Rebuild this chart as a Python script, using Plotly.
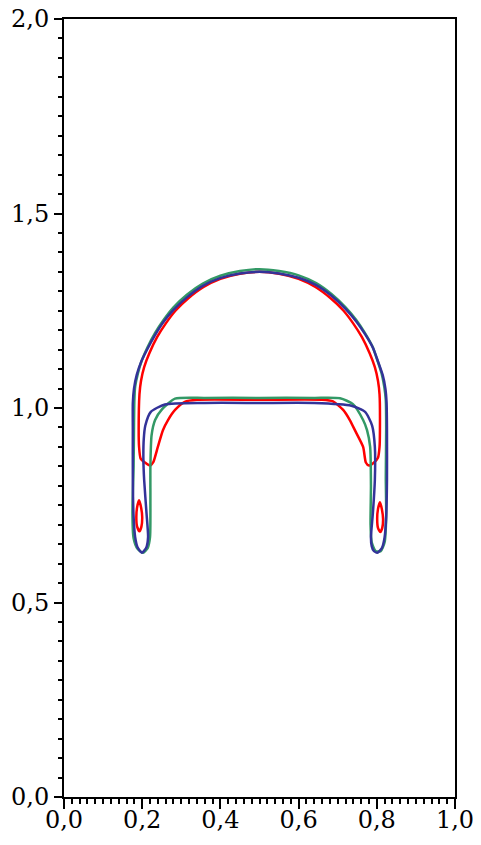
import plotly.graph_objects as go

# ─── contour data ────────────────────────────────────────────────────────────

blue_x = [0.500, 0.450, 0.399, 0.355, 0.315, 0.280, 0.253, 0.232, 0.212, 0.197, 0.186, 0.179,
          0.176, 0.176, 0.176, 0.178, 0.182, 0.188, 0.199, 0.210, 0.215, 0.211, 0.205, 0.203,
          0.204, 0.208, 0.222, 0.258, 0.360, 0.500, 0.640, 0.735, 0.770, 0.788, 0.795, 0.795,
          0.790, 0.785, 0.787, 0.792, 0.801, 0.813, 0.820, 0.824, 0.826, 0.826, 0.825, 0.822,
          0.815, 0.803, 0.790, 0.770, 0.748, 0.720, 0.685, 0.645, 0.600, 0.550, 0.500]
blue_y = [1.350, 1.346, 1.334, 1.314, 1.285, 1.252, 1.219, 1.186, 1.149, 1.118, 1.085, 1.050,
          1.013, 0.943, 0.815, 0.720, 0.668, 0.642, 0.628, 0.640, 0.668, 0.730, 0.815, 0.870,
          0.920, 0.955, 0.990, 1.009, 1.013, 1.013, 1.013, 1.006, 0.990, 0.955, 0.900, 0.815,
          0.730, 0.668, 0.645, 0.633, 0.628, 0.640, 0.668, 0.720, 0.815, 0.943, 1.013, 1.050,
          1.085, 1.120, 1.155, 1.190, 1.222, 1.255, 1.288, 1.316, 1.335, 1.346, 1.350]

green_x = [0.500, 0.450, 0.400, 0.355, 0.315, 0.280, 0.255, 0.233, 0.213, 0.199, 0.189, 0.182,
           0.180, 0.179, 0.178, 0.175, 0.178, 0.188, 0.202, 0.214, 0.220, 0.221, 0.221, 0.224,
           0.233, 0.251, 0.284, 0.360, 0.500, 0.640, 0.706, 0.739, 0.765, 0.775, 0.783, 0.785,
           0.784, 0.787, 0.797, 0.810, 0.820, 0.824, 0.823, 0.824, 0.823, 0.819, 0.812, 0.801,
           0.789, 0.769, 0.747, 0.719, 0.684, 0.645, 0.600, 0.550, 0.500]
green_y = [1.357, 1.352, 1.340, 1.320, 1.292, 1.259, 1.227, 1.193, 1.155, 1.122, 1.089, 1.055,
           1.020, 0.950, 0.850, 0.730, 0.665, 0.638, 0.628, 0.640, 0.668, 0.760, 0.850, 0.930,
           0.969, 0.997, 1.024, 1.026, 1.026, 1.026, 1.025, 1.010, 0.969, 0.943, 0.900, 0.800,
           0.700, 0.655, 0.632, 0.632, 0.655, 0.720, 0.820, 0.950, 1.020, 1.055, 1.090, 1.124,
           1.158, 1.194, 1.227, 1.260, 1.293, 1.321, 1.341, 1.352, 1.357]

red_x = [0.500, 0.450, 0.400, 0.357, 0.318, 0.285, 0.260, 0.238, 0.218, 0.205, 0.197, 0.193,
         0.191, 0.192, 0.196, 0.207, 0.220, 0.228, 0.240, 0.253, 0.266, 0.284, 0.309, 0.340,
         0.500, 0.660, 0.688, 0.714, 0.731, 0.744, 0.765, 0.772, 0.780, 0.793, 0.803, 0.807,
         0.808, 0.807, 0.803, 0.795, 0.782, 0.762, 0.740, 0.715, 0.682, 0.643, 0.600, 0.550,
         0.500]
red_y = [1.350, 1.345, 1.332, 1.311, 1.282, 1.250, 1.217, 1.182, 1.140, 1.105, 1.070, 1.035,
         0.943, 0.900, 0.870, 0.860, 0.852, 0.860, 0.900, 0.943, 0.969, 0.995, 1.016, 1.021,
         1.021, 1.021, 1.017, 0.995, 0.969, 0.943, 0.900, 0.860, 0.852, 0.860, 0.872, 0.900,
         0.943, 1.035, 1.070, 1.105, 1.140, 1.182, 1.217, 1.250, 1.282, 1.311, 1.332, 1.345,
         1.350]

# detached red droplets
drop_l_x = [0.192, 0.197, 0.200, 0.198, 0.193, 0.187, 0.185, 0.187, 0.192]
drop_l_y = [0.763, 0.745, 0.720, 0.695, 0.683, 0.695, 0.720, 0.745, 0.763]
drop_r_x = [0.808, 0.813, 0.816, 0.814, 0.809, 0.803, 0.801, 0.803, 0.808]
drop_r_y = [0.758, 0.740, 0.715, 0.692, 0.681, 0.692, 0.715, 0.740, 0.758]

RED, GREEN, BLUE = "#ff0000", "#339966", "#333399"
LINE = dict(width=2.5, shape="spline", smoothing=0.6)

fig = go.Figure()
fig.add_trace(go.Scatter(
    x=red_x + [None] + drop_l_x + [None] + drop_r_x,
    y=red_y + [None] + drop_l_y + [None] + drop_r_y,
    mode="lines", line=dict(color=RED, **LINE),
))
fig.add_trace(go.Scatter(x=green_x, y=green_y, mode="lines", line=dict(color=GREEN, **LINE)))
fig.add_trace(go.Scatter(x=blue_x, y=blue_y, mode="lines", line=dict(color=BLUE, **LINE)))

# page body adds an 8px margin, so the figure is sized/offset to compensate
tickfont = dict(family="DejaVu Serif", size=24, color="black")
fig.update_layout(
    width=473, height=837,
    paper_bgcolor="white", plot_bgcolor="white",
    margin=dict(l=56, r=26, t=11, b=48, autoexpand=False),
    showlegend=False,
    separators=", ",
    xaxis=dict(range=[0, 1], dtick=0.2, tick0=0, tickformat=".1f",
               showgrid=False, zeroline=False, automargin=False,
               showline=True, linecolor="black", linewidth=2, mirror=True,
               ticks="outside", ticklen=10, tickwidth=2, tickcolor="black",
               ticklabelstandoff=-10, ticklabeloverflow="allow",
               minor=dict(dtick=0.02, ticks="outside", ticklen=5, tickwidth=1.5, tickcolor="black"),
               tickfont=tickfont),
    yaxis=dict(range=[0, 2], dtick=0.5, tick0=0, tickformat=".1f",
               showgrid=False, zeroline=False, automargin=False,
               showline=True, linecolor="black", linewidth=2, mirror=True,
               ticks="outside", ticklen=8, tickwidth=2, tickcolor="black",
               ticklabeloverflow="allow",
               minor=dict(dtick=0.05, ticks="outside", ticklen=4, tickwidth=1.5, tickcolor="black"),
               tickfont=tickfont),
)

fig.write_html("out.html")
